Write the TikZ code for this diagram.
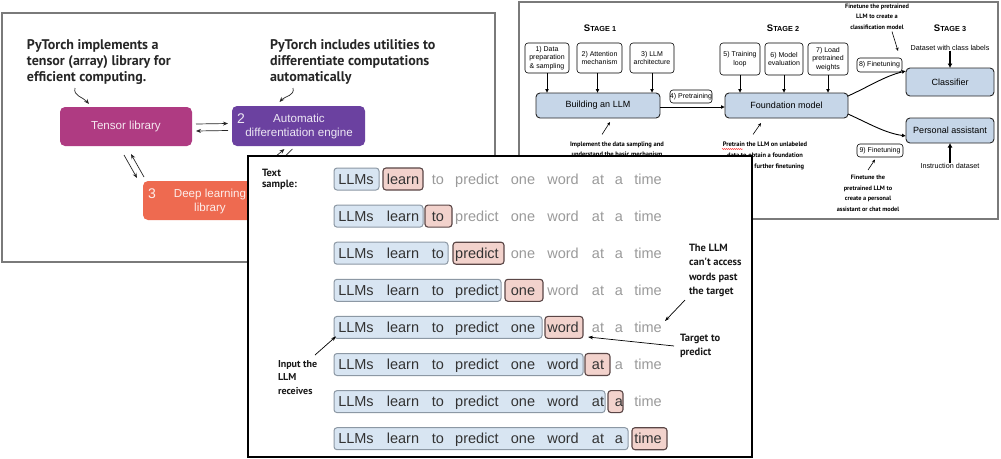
\documentclass[tikz,border=0pt]{standalone}
\usepackage{fontspec}
\setmainfont{Liberation Sans}
\newfontfamily\annot{PT Sans}
\usetikzlibrary{arrows.meta,decorations.pathmorphing}
\definecolor{tensorc}{HTML}{AF3B82}
\definecolor{autoc}{HTML}{6B41A0}
\definecolor{deepc}{HTML}{EE6A50}
\definecolor{stagebox}{HTML}{C6D6E8}
\definecolor{ctxfill}{HTML}{D8E5F2}
\definecolor{ctxline}{HTML}{8C98A4}
\definecolor{tgtfill}{HTML}{F2D2CC}
\definecolor{tgtline}{HTML}{5A4646}
\definecolor{fadeword}{HTML}{9A9A9A}
\definecolor{textdark}{HTML}{333333}
\definecolor{panelgray}{HTML}{7A7A7A}
\newcommand\stagelbl[1]{{\fontsize{9.5}{10}\selectfont S}{\fontsize{7.3}{10}\selectfont TAGE #1}}
\begin{document}
\begin{tikzpicture}[x=1pt,y=-1pt,
  every node/.style={inner sep=0pt, outer sep=0pt},
  panelline/.style={draw=panelgray, line width=2pt, fill=white},
  parr/.style={-{Stealth[length=5pt,width=4pt]}, line width=0.7pt, black!85},
  darr/.style={-{Latex[length=4pt,width=4pt]}, line width=0.9pt},
  thickarr/.style={-{Latex[length=4.5pt,width=5pt]}, line width=1.5pt},
  tarr/.style={-{Stealth[length=3.5pt,width=3pt]}, line width=0.6pt},
  sarr/.style={-{Stealth[length=5pt,width=3.5pt]}, line width=0.7pt},
  pbox/.style={rounded corners=5pt, font=\fontsize{11.6}{13.5}\selectfont, align=center},
  annotA/.style={font=\annot\bfseries\fontsize{14}{16}\selectfont, align=left, anchor=north west, text=black!85},
  annotC/.style={font=\annot\bfseries\fontsize{10.5}{14.5}\selectfont, align=left, anchor=north west, text=black!90},
  tinyannot/.style={font=\annot\bfseries\fontsize{6.3}{10.5}\selectfont, align=center, anchor=north},
  smallbox/.style={draw, rounded corners=3pt, line width=0.6pt, fill=white, font=\fontsize{7}{8.5}\selectfont, align=center},
  stagenode/.style={draw=black!85, fill=stagebox, rounded corners=4pt, line width=0.9pt, font=\fontsize{9}{11}\selectfont},
  smalltext/.style={font=\fontsize{7.2}{8.5}\selectfont},
  ctxbox/.style={draw=ctxline, fill=ctxfill, rounded corners=3pt, line width=1pt, minimum height=22pt},
  tgtbox/.style={draw=tgtline, fill=tgtfill, rounded corners=3pt, line width=1.1pt, minimum height=22pt},
  wordstyle/.style={font=\fontsize{14.5}{16}\selectfont, anchor=base}
]
\useasboundingbox (0,0) rectangle (1001,458);

% ---------------- Panel 1 ----------------
\draw[panelline] (2,13) rectangle (495,262);
\node[annotA] (ann1) at (27,39.5) {PyTorch implements a\\tensor (array) library for\\efficient computing.};
\node[annotA] (ann2) at (270,39.5) {PyTorch includes utilities to\\differentiate computations\\automatically};

\node[pbox, fill=tensorc, minimum width=132pt, minimum height=39pt, text=white!88!tensorc] (tensor) at (126,126.5) {Tensor library};
\node[pbox, fill=autoc, minimum width=133pt, minimum height=40pt] (autod) at (298.5,126) {};
\node[font=\fontsize{14}{14}\selectfont, text=white!88!autoc] (autonum) at (241,119) {2};
\node[pbox, text=white!88!autoc] (autotxt) at (299,126.5) {Automatic\\differentiation engine};
\node[pbox, fill=deepc, minimum width=133pt, minimum height=39pt] (deep) at (209.5,200.5) {};
\node[font=\fontsize{14}{14}\selectfont, text=white!88!deepc] (deepnum) at (152,194) {3};
\node[pbox, text=white!88!deepc] (deeptxt) at (210,201.5) {Deep learning\\library};

\coordinate (c1s) at (75,88);
\coordinate (c2s) at (293,88);
\draw[parr] (c1s) .. controls (73,96) and (83,97) .. ([shift={(-37,-3)}]tensor.north);
\draw[parr] (c2s) .. controls (295,96) and (285,96) .. ([shift={(-19,-4)}]autod.north);

\draw[parr] ([shift={(4,-2.5)}]tensor.east) -- ([shift={(-4,-2.5)}]autod.west);
\draw[parr] ([shift={(-4,4.5)}]autod.west) -- ([shift={(4,4.5)}]tensor.east);
\draw[parr] ([shift={(-2,9)}]tensor.south) -- ([shift={(-6,-3)}]deep.north west);
\draw[parr] ([shift={(1,-4)}]deep.north west) -- ([shift={(5,8)}]tensor.south);
\draw[parr] ([shift={(-6,3)}]autod.south) -- ([shift={(-14,-2)}]deep.north east);
\draw[parr] ([shift={(-20,-8)}]deep.north east) -- ([shift={(-14,3)}]autod.south);

% ---------------- Panel 2 ----------------
\draw[panelline] (519,2) rectangle (998,219);
\node[font=\bfseries] (st1) at (600,28) {\stagelbl{1}};
\node[font=\bfseries] (st2) at (783,28) {\stagelbl{2}};
\node[font=\bfseries] (st3) at (950,28) {\stagelbl{3}};

\node[smallbox, minimum width=44pt, minimum height=30pt] (s1) at (547,58) {1) Data\\preparation\\\& sampling};
\node[smallbox, minimum width=45pt, minimum height=30pt] (s2) at (599.5,58) {2) Attention\\mechanism};
\node[smallbox, minimum width=44pt, minimum height=30pt] (s3) at (652,58) {3) LLM\\architecture};
\node[stagenode, minimum width=124pt, minimum height=25pt] (build) at (598,105.5) {Building an LLM};
\draw[darr] (s1.south) -- (s1.south |- build.north);
\draw[darr] ([xshift=-2pt]s2.south) -- ([xshift=-2pt]s2.south |- build.north);
\draw[darr] (s3.south) -- (s3.south |- build.north);

\node[smallbox, minimum width=42pt, minimum height=13pt] (s4) at (691,96.5) {4) Pretraining};
\node[stagenode, minimum width=123pt, minimum height=25pt] (found) at (786.5,105.5) {Foundation model};
\draw[darr] ([yshift=-1.5pt]build.east) -- ([yshift=-1.5pt]found.west);

\node[smallbox, minimum width=40pt, minimum height=32pt] (s5) at (740,59) {5) Training\\loop};
\node[smallbox, minimum width=38pt, minimum height=32pt] (s6) at (784,59) {6) Model\\evaluation};
\node[smallbox, minimum width=40pt, minimum height=32pt] (s7) at (828,59) {7) Load\\pretrained\\weights};
\draw[darr] (s5.south) -- (s5.south |- found.north);
\draw[darr] (s6.south) -- (s6.south |- found.north);
\draw[darr] (s7.south) -- (s7.south |- found.north);

\node[smallbox, minimum width=45pt, minimum height=14pt] (s8) at (879.5,65) {8) Finetuning};
\node[stagenode, minimum width=88pt, minimum height=28pt] (clf) at (950,82) {Classifier};
\node[stagenode, minimum width=88pt, minimum height=25pt] (pa) at (950,130.5) {Personal assistant};
\node[smalltext] (dsl) at (950,48) {Dataset with class labels};
\draw[thickarr] (dsl.south) -- (clf.north);
\node[smalltext] (ids) at (950,166) {Instruction dataset};
\draw[thickarr] (ids.north) -- (pa.south);
\node[smallbox, minimum width=46pt, minimum height=13pt] (s9) at (880,150.5) {9) Finetuning};

\draw[darr] ([yshift=9.5pt]found.east) .. controls (870,86) and (885,76) .. ([shift={(0,-11)}]clf.west);
\draw[darr] ([yshift=-8.5pt]found.east) .. controls (870,124) and (885,133) .. ([shift={(0,5.5)}]pa.west);

\node[tinyannot] (annclf) at (877,4) {Finetune the pretrained\\LLM to create a\\classification model};
\draw[tarr] ([shift={(15,2)}]annclf.south) -- ([shift={(18.5,-7)}]s8.north);
\node[tinyannot, font=\annot\bfseries\fontsize{6.5}{10}\selectfont] (annimp) at (617,141.5) {Implement the data sampling and\\understand the basic mechanism};
\draw[tarr] ([shift={(-15,-7)}]annimp.north) -- ([shift={(12,4)}]build.south);
\node[tinyannot, font=\annot\bfseries\fontsize{6.5}{11}\selectfont] (annpre) at (765,141.5) {Pretrain the LLM on unlabeled\\data to obtain a foundation\\model for further finetuning};
\draw[red, line width=0.4pt, decorate, decoration={snake, amplitude=0.5pt, segment length=2pt}] (722,149) -- (743,149);
\draw[tarr] ([shift={(-12,-7)}]annpre.north) -- ([shift={(-25.5,5)}]found.south);
\node[tinyannot, font=\annot\bfseries\fontsize{6.3}{10.7}\selectfont] (annpa) at (868,175) {Finetune the\\pretrained LLM to\\create a personal\\assistant or chat model};
\draw[tarr] ([shift={(0,-5)}]annpa.north) -- ([shift={(-5,2.5)}]s9.south);

% ---------------- Panel 3 ----------------
\draw[draw=black, line width=1.2pt, fill=white] (248,156) rectangle (752,457);
\node[annotC, font=\annot\bfseries\fontsize{10.5}{11}\selectfont] (ts) at (262,169) {Text\\sample:};

\foreach \r/\cr/\tl/\tr in {1/379/383/423,2/423/425/452,3/448/453/504,4/501/505/543,5/542/545/583,6/583/585/610,7/605/608/623,8/628/632/667}{
  \pgfmathsetmacro\yy{179+37.1*(\r-1)}
  \pgfmathsetmacro\cw{\cr-334}
  \pgfmathsetmacro\tw{\tr-\tl}
  \pgfmathsetmacro\tc{(\tr+\tl)/2}
  \node[ctxbox, minimum width=\cw pt, anchor=west] (ctx-\r) at (334,\yy) {};
  \node[tgtbox, minimum width=\tw pt] (tgt-\r) at (\tc,\yy) {};
  \foreach \w/\x [count=\i] in {LLMs/356,learn/403,to/438,predict/477,one/523,word/563,at/598,a/619,time/648}{
    \pgfmathtruncatemacro\on{\i<\r+2 ? 1 : 0}
    \ifnum\on=1 \def\wcol{textdark}\else\def\wcol{fadeword}\fi
    \node[wordstyle, text=\wcol] (w-\r-\i) at (\x,{\yy+5.2}) {\w};
  }
}

\node[annotC] (cant) at (689,244) {The LLM\\can't access\\words past\\the target};
\coordinate (llmtip) at (665,321);
\draw[sarr] ([shift={(-4,3)}]cant.south west) -- (llmtip);

\node[annotC] (tgtlab) at (680,334) {Target to\\predict};
\coordinate (tgtpt) at (588,337);
\draw[sarr] ([xshift=-6pt]tgtlab.west) -- (tgtpt);

\node[annotC, font=\annot\bfseries\fontsize{10}{13.5}\selectfont] (inlab) at (278,360) {Input the\\LLM\\receives};
\draw[sarr] ([shift={(37,-5)}]inlab.north west) -- ([shift={(2,-2)}]ctx-5.south west);
\end{tikzpicture}
\end{document}
